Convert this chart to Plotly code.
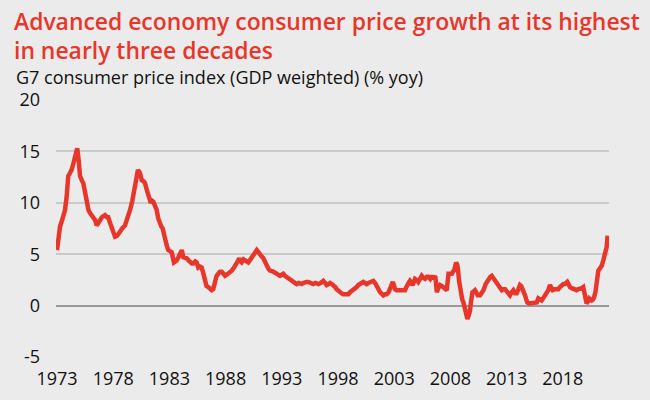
import plotly.graph_objects as go

# G7 consumer price index (GDP weighted), % yoy
year = [
    1973.00, 1973.15, 1973.27, 1973.45, 1973.56, 1973.71, 1973.85, 1974.00, 1974.15, 1974.30,
    1974.45, 1974.60, 1974.80, 1974.92, 1975.05, 1975.20, 1975.34, 1975.50, 1975.64, 1975.80,
    1975.94, 1976.10, 1976.23, 1976.40, 1976.53, 1976.70, 1976.83, 1977.00, 1977.15, 1977.27,
    1977.45, 1977.56, 1977.70, 1977.87, 1978.00, 1978.16, 1978.35, 1978.60, 1978.80, 1979.05,
    1979.30, 1979.50, 1979.70, 1979.94, 1980.10, 1980.20, 1980.38, 1980.54, 1980.70, 1980.83,
    1981.00, 1981.12, 1981.25, 1981.34, 1981.45, 1981.57, 1981.72, 1981.87, 1982.00, 1982.16,
    1982.28, 1982.40, 1982.60, 1982.75, 1982.90, 1983.05, 1983.20, 1983.40, 1983.55, 1983.65,
    1983.80, 1983.94, 1984.10, 1984.24, 1984.40, 1984.54, 1984.70, 1984.83, 1985.00, 1985.13,
    1985.30, 1985.43, 1985.57, 1985.72, 1985.87, 1986.00, 1986.17, 1986.30, 1986.46, 1986.60,
    1986.76, 1986.90, 1987.06, 1987.20, 1987.35, 1987.50, 1987.65, 1987.80, 1987.95, 1988.10,
    1988.24, 1988.40, 1988.54, 1988.75, 1988.99, 1989.10, 1989.22, 1989.32, 1989.43, 1989.60,
    1989.73, 1989.88, 1990.02, 1990.15, 1990.32, 1990.50, 1990.62, 1990.77, 1990.92, 1991.06,
    1991.20, 1991.36, 1991.50, 1991.66, 1991.80, 1991.95, 1992.10, 1992.24, 1992.40, 1992.55,
    1992.70, 1992.84, 1993.00, 1993.13, 1993.28, 1993.43, 1993.60, 1993.73, 1993.88, 1994.02,
    1994.17, 1994.32, 1994.50, 1994.77, 1994.90, 1995.06, 1995.20, 1995.36, 1995.55, 1995.80,
    1996.00, 1996.25, 1996.45, 1996.69, 1996.85, 1996.99, 1997.15, 1997.29, 1997.45, 1997.58,
    1997.75, 1997.88, 1998.05, 1998.18, 1998.30, 1998.47, 1998.60, 1998.77, 1998.92, 1999.07,
    1999.20, 1999.36, 1999.50, 1999.66, 1999.80, 1999.96, 2000.10, 2000.25, 2000.40, 2000.55,
    2000.70, 2000.85, 2001.00, 2001.14, 2001.30, 2001.44, 2001.60, 2001.74, 2001.90, 2002.03,
    2002.18, 2002.33, 2002.50, 2002.63, 2002.75, 2002.87, 2002.97, 2003.07, 2003.20, 2003.36,
    2003.50, 2003.67, 2003.80, 2003.96, 2004.08, 2004.17, 2004.28, 2004.40, 2004.52, 2004.64,
    2004.75, 2004.85, 2005.00, 2005.14, 2005.30, 2005.45, 2005.60, 2005.74, 2005.90, 2006.03,
    2006.20, 2006.35, 2006.50, 2006.64, 2006.72, 2006.79, 2006.93, 2007.08, 2007.25, 2007.39,
    2007.55, 2007.68, 2007.75, 2007.83, 2008.00, 2008.13, 2008.23, 2008.33, 2008.42, 2008.51,
    2008.60, 2008.66, 2008.77, 2008.87, 2008.95, 2009.05, 2009.16, 2009.30, 2009.42, 2009.51,
    2009.62, 2009.74, 2009.85, 2009.96, 2010.08, 2010.19, 2010.30, 2010.43, 2010.64, 2010.80,
    2010.94, 2011.14, 2011.38, 2011.55, 2011.68, 2011.82, 2011.97, 2012.12, 2012.27, 2012.42,
    2012.57, 2012.70, 2012.86, 2013.00, 2013.10, 2013.30, 2013.45, 2013.60, 2013.75, 2013.90,
    2014.05, 2014.19, 2014.30, 2014.43, 2014.55, 2014.64, 2014.75, 2014.84, 2015.00, 2015.15,
    2015.37, 2015.50, 2015.60, 2015.68, 2015.82, 2016.00, 2016.12, 2016.30, 2016.42, 2016.60,
    2016.71, 2016.86, 2017.00, 2017.10, 2017.30, 2017.45, 2017.60, 2017.75, 2017.90, 2018.05,
    2018.20, 2018.40, 2018.50, 2018.64, 2018.80, 2018.93, 2019.08, 2019.23, 2019.38, 2019.53,
    2019.70, 2019.82, 2019.90, 2019.97, 2020.05, 2020.12, 2020.22, 2020.35, 2020.45, 2020.57,
    2020.68, 2020.78, 2020.90, 2021.02, 2021.10, 2021.16, 2021.30, 2021.47, 2021.60, 2021.69,
    2021.80, 2021.90, 2021.95, 2021.98,
]
cpi = [
    5.4, 6.8, 7.7, 8.3, 8.6, 9.3, 10.5, 12.6, 12.9, 13.2,
    13.8, 14.5, 15.3, 14.2, 12.6, 12.2, 11.9, 11.0, 10.0, 9.3,
    9.0, 8.7, 8.5, 8.3, 7.8, 8.0, 8.3, 8.6, 8.8, 8.8,
    8.6, 8.6, 8.1, 7.5, 7.0, 6.7, 6.8, 7.3, 7.5, 7.8,
    8.5, 9.3, 10.2, 11.6, 13.0, 13.2, 12.9, 12.2, 12.1, 11.9,
    11.2, 10.6, 10.1, 10.0, 10.2, 10.1, 9.7, 9.3, 8.5, 7.8,
    7.7, 7.5, 6.4, 5.9, 5.4, 5.3, 5.2, 4.2, 4.3, 4.4,
    4.7, 5.1, 5.4, 4.7, 4.7, 4.6, 4.4, 4.2, 4.1, 4.1,
    4.3, 4.2, 3.7, 3.8, 3.7, 3.2, 2.1, 1.9, 1.8, 1.7,
    1.5, 1.6, 2.6, 2.9, 3.1, 3.3, 3.3, 3.1, 2.9, 3.0,
    3.1, 3.2, 3.4, 3.7, 4.1, 4.4, 4.6, 4.3, 4.2, 4.5,
    4.4, 4.3, 4.2, 4.4, 4.7, 5.0, 5.2, 5.4, 5.2, 4.9,
    4.8, 4.6, 4.2, 3.7, 3.6, 3.4, 3.4, 3.3, 3.2, 3.1,
    3.0, 2.9, 3.0, 3.1, 2.9, 2.8, 2.7, 2.6, 2.5, 2.3,
    2.2, 2.1, 2.2, 2.1, 2.2, 2.3, 2.3, 2.3, 2.2, 2.1,
    2.2, 2.1, 2.2, 2.4, 2.2, 2.0, 2.1, 2.2, 2.1, 2.0,
    1.8, 1.6, 1.4, 1.3, 1.2, 1.1, 1.1, 1.0, 1.1, 1.3,
    1.4, 1.5, 1.6, 1.8, 2.0, 2.1, 2.2, 2.3, 2.2, 2.1,
    2.2, 2.3, 2.4, 2.4, 2.2, 2.0, 1.6, 1.3, 1.1, 1.0,
    1.1, 1.1, 1.3, 1.6, 2.0, 2.3, 2.0, 1.6, 1.5, 1.5,
    1.6, 1.6, 1.6, 1.5, 1.8, 2.1, 2.2, 2.4, 2.2, 2.0,
    2.3, 2.6, 2.5, 2.3, 2.6, 2.9, 2.7, 2.6, 2.8, 2.8,
    2.6, 2.9, 2.6, 2.9, 2.2, 1.3, 1.7, 2.0, 1.9, 1.8,
    1.7, 1.5, 2.3, 3.1, 3.1, 3.1, 3.3, 3.4, 3.8, 4.2,
    4.0, 3.7, 2.4, 1.5, 0.7, 0.6, 0.3, -0.5, -1.0, -1.3,
    -1.0, -0.5, 0.5, 1.3, 1.4, 1.5, 1.3, 1.0, 1.0, 1.2,
    1.5, 2.1, 2.6, 2.8, 2.9, 2.7, 2.4, 2.3, 2.1, 1.8,
    1.5, 1.6, 1.6, 1.4, 1.3, 1.0, 1.3, 1.5, 1.2, 1.2,
    1.6, 2.0, 1.9, 1.6, 1.4, 1.0, 0.6, 0.3, 0.2, 0.2,
    0.2, 0.3, 0.2, 0.3, 0.7, 0.6, 0.5, 0.8, 1.0, 1.3,
    1.5, 2.0, 1.8, 1.5, 1.6, 1.6, 1.6, 1.8, 2.0, 2.1,
    2.1, 2.3, 2.1, 1.8, 1.7, 1.6, 1.6, 1.5, 1.6, 1.6,
    1.7, 1.8, 1.4, 1.0, 0.5, 0.2, 0.4, 0.7, 0.6, 0.5,
    0.6, 0.8, 1.3, 2.3, 3.0, 3.4, 3.6, 3.9, 4.4, 4.7,
    5.3, 5.7, 6.3, 6.8,
]

x_tick_years = [1973, 1978, 1983, 1988, 1993, 1998, 2003, 2008, 2013, 2018]
x_tick_labels = [str(y) for y in x_tick_years]
y_tick_vals = [-5, 0, 5, 10, 15, 20]
y_tick_labels = ["-5", "0", "5", "10", "15", "20"]

title_lines = ["Advanced economy consumer price growth at its highest",
               "in nearly three decades"]
subtitle_text = "G7 consumer price index (GDP weighted) (% yoy)"

RED = "#e8362a"
BG = "#ebebeb"
FONT = "Open Sans"

W, H = 650, 400
ML, MR, MT, MB = 56, 41, 100, 43
PW, PH = W - ML - MR, H - MT - MB


def px_x(px):
    return (px - ML) / PW


def px_y(py):
    return (H - MB - py) / PH


fig = go.Figure()
fig.add_trace(go.Scatter(
    x=year, y=cpi, mode="lines",
    line=dict(color=RED, width=4.5),
    hoverinfo="skip", showlegend=False,
))

annotations = [
    dict(text=title_lines[0], x=px_x(12), y=px_y(22),
         font=dict(family=FONT, size=22.9, color=RED, weight=600)),
    dict(text=title_lines[1], x=px_x(12), y=px_y(50),
         font=dict(family=FONT, size=22.9, color=RED, weight=600)),
    dict(text=subtitle_text, x=px_x(14), y=px_y(77),
         font=dict(family=FONT, size=18, color="#111111")),
]
for a in annotations:
    a.update(xref="paper", yref="paper", xanchor="left", yanchor="middle", showarrow=False)

fig.update_layout(
    template="none",
    width=W, height=H,
    margin=dict(l=ML, r=MR, t=MT, b=MB, pad=0),
    paper_bgcolor=BG, plot_bgcolor=BG,
    font=dict(family=FONT, color="#111111", size=18),
    xaxis=dict(
        range=[1972.91, 2022.11],
        tickmode="array", tickvals=x_tick_years, ticktext=x_tick_labels,
        showgrid=False, zeroline=False, showline=False, ticks="",
        tickfont=dict(size=18, color="#111111"),
        ticklabelstandoff=9,
    ),
    yaxis=dict(
        range=[-5, 20],
        tickmode="array", tickvals=y_tick_vals, ticktext=y_tick_labels,
        showgrid=True, gridcolor="#c9c9c9", gridwidth=1.5,
        zeroline=True, zerolinecolor="#999999", zerolinewidth=2,
        showline=False, ticks="",
        tickfont=dict(size=18, color="#111111"),
        ticklabelstandoff=15,
    ),
    annotations=annotations,
)

fig.write_html("out.html", config={"displayModeBar": False},
               post_script="document.body.style.margin='0';")
